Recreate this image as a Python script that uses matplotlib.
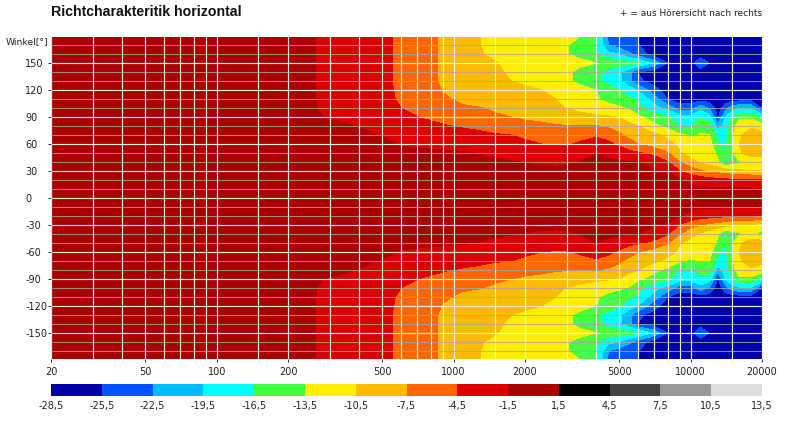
import numpy as np
import matplotlib
matplotlib.use("Agg")
import matplotlib.pyplot as plt
from matplotlib.ticker import NullFormatter

freqs = [20, 200, 240, 280, 500, 600, 750, 900, 1100, 1300, 1500, 1750, 2000, 2350, 2700, 3000, 3400,
         4000, 4500, 5000, 5500, 6000, 7000, 8000, 9000, 10000, 11000, 12000, 13000, 14000, 15000, 16000, 18000, 20000]
angles = list(range(180, -181, -10))

levels_db = [-28.5, -25.5, -22.5, -19.5, -16.5, -13.5, -10.5, -7.5, -4.5, -1.5, 1.5, 4.5, 7.5, 10.5, 13.5]
level_labels = ["-28,5", "-25,5", "-22,5", "-19,5", "-16,5", "-13,5", "-10,5", "-7,5", "-4,5", "-1,5", "1,5", "4,5", "7,5", "10,5", "13,5"]
band_colors = ["#0000AA", "#0055FF", "#00BBFF", "#00FFFF", "#44FF44", "#FFEE00", "#FFBB00", "#FF6600", "#DD0000", "#AA0000", "#000000", "#444444", "#999999", "#DDDDDD"]

level_rows = [
 [-.5,-.7,-1,-2,-3.9,-5.1,-6.5,-7.9,-9.2,-10.5,-11,-11.5,-12,-12,-12.3,-12.7,-13.5,-16.5,-23,-25,-25,-25.6,-27,-27,-27,-27,-27,-27,-27,-27,-27,-27,-27,-27],
 [-.5,-.7,-1,-2,-3.9,-5.1,-6.5,-7.9,-9.2,-10.5,-11,-11.5,-12,-12.2,-12.6,-13.3,-14.5,-16.4,-22.6,-24,-24.5,-25.4,-27,-27,-27,-27,-27,-27,-27,-27,-27,-27,-27,-27],
 [-.5,-.7,-1,-2,-3.9,-5.1,-6.5,-7.9,-9.2,-10.4,-10.9,-11.4,-11.8,-12,-12.4,-13.3,-14.5,-16.5,-18.5,-19.5,-22,-24,-27,-27,-27,-27,-26.5,-27,-27,-27,-27,-27,-27,-27],
 [-.5,-.7,-1,-2,-3.9,-5.1,-6.5,-7.9,-9.2,-10.2,-10.4,-11,-11.3,-11.5,-11.5,-11.5,-12.5,-13.5,-14.5,-15,-15.5,-16,-20.5,-25.5,-27,-26.5,-24,-25.6,-27,-27,-27,-27,-27,-27],
 [-.5,-.7,-1,-2,-3.9,-5.1,-6.5,-7.9,-9.2,-10,-10.3,-10.7,-11.2,-11.5,-12,-12.8,-14.5,-15.8,-17.5,-19,-21.5,-25.6,-27,-27,-27,-27,-26.5,-27,-27,-27,-27,-27,-27,-27],
 [-.5,-.7,-1,-2,-3.9,-5.1,-6.5,-7.9,-9,-9.8,-10,-10.5,-11,-11.2,-11.7,-13,-14.2,-16,-17.5,-19,-21.5,-25,-26.5,-27,-27,-27,-27,-27,-27,-27,-27,-27,-27,-27],
 [-.5,-.7,-1,-2,-3.8,-5,-6.4,-7.6,-8.6,-9.1,-9.3,-9.6,-10,-10.5,-11.3,-12,-12.5,-13.5,-15,-16.5,-18,-19.7,-24.5,-27,-27,-27,-27,-27,-27,-27,-27,-27,-27,-27],
 [-.5,-.7,-1,-1.9,-3.7,-4.9,-6.2,-7.2,-8,-8.7,-9,-9.3,-9.6,-10,-10.5,-11.2,-12,-13.2,-14.3,-15,-16,-17,-21,-25.5,-27,-27,-27,-27,-27,-27,-27,-27,-27,-27],
 [-.5,-.7,-1,-1.8,-3.5,-4.5,-5.8,-7,-7.2,-7.4,-8,-8.4,-9,-9.6,-10.2,-10.6,-11.5,-12,-12.6,-13,-13.8,-15.5,-18.5,-20.5,-24,-24,-20.5,-23,-27,-24,-21,-20,-20,-25.5],
 [-.5,-.6,-.8,-1.5,-3,-3.9,-4.7,-5.2,-5.8,-6.4,-7,-7.5,-8,-8.3,-8.6,-8.7,-9.2,-10,-10.2,-10.6,-11.8,-13,-15,-16,-18.3,-18.5,-17,-18,-26,-19.5,-16.6,-14.2,-14.2,-16.6],
 [-.5,-.5,-.7,-1,-2,-2.9,-3.7,-4.3,-4.8,-5.2,-5.6,-6,-6.5,-6.9,-7.3,-7.4,-7.3,-7.4,-8,-8.7,-9.7,-10.5,-12.6,-14.5,-16.8,-17,-14,-15,-21,-18.5,-14.5,-12,-11,-12.3],
 [-.5,-.5,-.6,-.9,-1.6,-2.3,-3,-3.3,-3.5,-3.9,-4.3,-4.5,-5,-5.3,-5.6,-5.6,-5.3,-4.8,-5.5,-7,-8.5,-9.5,-10,-11,-13,-14,-13.4,-13.4,-17,-17.5,-14,-11,-9,-9.5],
 [-.5,-.5,-.5,-.6,-1,-1.7,-2,-2.3,-2.5,-2.8,-3,-3.4,-4,-4.5,-4.8,-4.7,-4.2,-3.6,-4,-5,-6,-7.5,-8.8,-9.8,-11,-12,-12,-12.5,-16.2,-17,-14,-10.5,-9,-8.5],
 [-.5,-.5,-.5,-.5,-.7,-.9,-1,-1.1,-1.3,-1.6,-1.9,-2.3,-2.6,-3,-3,-2.8,-2.2,-1.5,-2,-3,-3.8,-4.2,-5.2,-7.3,-10.3,-11.5,-11.5,-12,-14,-16.5,-14,-11,-9,-8.5],
 [-.5,-.5,-.5,-.5,-.5,-.6,-.7,-.8,-.9,-1,-1.2,-1.4,-1.6,-1.9,-2,-1.9,-1.5,-1,-1.1,-1.2,-1.3,-1.5,-2.8,-4.3,-7.5,-9.5,-11,-12,-13,-16.8,-15,-14,-12.5,-14],
 [-.5,-.5,-.5,-.5,-.5,-.5,-.5,-.5,-.6,-.6,-.7,-.7,-.8,-.9,-.9,-.9,-.8,-.7,-.7,-.7,-.8,-.9,-1.2,-1.5,-4.5,-6,-7,-8,-8.5,-9,-9.5,-10,-10.3,-10.5],
 [-.5,-.5,-.5,-.5,-.5,-.5,-.5,-.5,-.5,-.5,-.5,-.5,-.5,-.5,-.5,-.5,-.5,-.5,-.5,-.5,-.5,-.5,-.7,-.9,-1.3,-2.2,-3,-3.3,-3.6,-3.8,-4,-4,-4,-4.5],
 [-.5,-.5,-.5,-.5,-.5,-.5,-.5,-.5,-.5,-.5,-.5,-.5,-.5,-.5,-.5,-.5,-.5,-.5,-.5,-.5,-.5,-.5,-.5,-.5,-.5,-.8,-1,-1,-1,-1,-1,-1.1,-1.2,-1.3],
 [-.5,-.5,-.5,-.5,-.5,-.5,-.5,-.5,-.5,-.5,-.5,-.5,-.5,-.5,-.5,-.5,-.5,-.5,-.5,-.5,-.5,-.5,-.5,-.5,-.5,-.5,-.5,-.5,-.5,-.5,-.5,-.5,-.5,-.5],
 [-.5,-.5,-.5,-.5,-.5,-.5,-.5,-.5,-.5,-.5,-.5,-.5,-.5,-.5,-.5,-.5,-.5,-.5,-.5,-.5,-.5,-.5,-.5,-.5,-.5,-.8,-1.2,-1.2,-1.2,-1.2,-1.4,-1.6,-1.6,-1.6],
 [-.5,-.5,-.5,-.5,-.5,-.5,-.5,-.5,-.5,-.5,-.5,-.5,-.5,-.5,-.5,-.5,-.5,-.5,-.5,-.5,-.5,-.5,-.7,-1,-1.5,-2.5,-3.2,-3.5,-3.8,-4,-4.2,-4.3,-4.4,-4.8],
 [-.5,-.5,-.5,-.5,-.5,-.5,-.5,-.5,-.6,-.6,-.7,-.7,-.8,-.9,-.9,-.9,-.8,-.7,-.7,-.7,-.8,-.9,-1.2,-1.6,-4.7,-6.5,-7.5,-8.3,-9,-9.5,-10,-10.5,-11,-11.5],
 [-.5,-.5,-.5,-.5,-.5,-.6,-.7,-.8,-.9,-1,-1.2,-1.4,-1.6,-1.9,-2,-1.9,-1.5,-1,-1.1,-1.2,-1.3,-1.5,-2.8,-4.3,-7.5,-9.5,-11,-12,-13,-16.8,-15,-14,-12.5,-15],
 [-.5,-.5,-.5,-.5,-.7,-.9,-1,-1.1,-1.3,-1.6,-1.9,-2.3,-2.6,-3,-3,-2.8,-2.2,-1.5,-2,-3,-3.8,-4.2,-5.2,-7.3,-10.3,-11.5,-11.5,-12,-14,-16.5,-14,-11,-9,-8.5],
 [-.5,-.5,-.5,-.6,-1,-1.7,-2,-2.3,-2.5,-2.8,-3,-3.4,-4,-4.5,-4.8,-4.7,-4.2,-3.6,-4,-5,-6,-7.5,-8.8,-9.8,-11,-12,-12,-12.5,-16.2,-17,-14,-10.5,-9,-8.5],
 [-.5,-.5,-.6,-.9,-1.6,-2.3,-3,-3.3,-3.5,-3.9,-4.3,-4.5,-5,-5.3,-5.6,-5.6,-5.3,-4.8,-5.5,-7,-8.5,-9.5,-10,-11,-13,-14,-13.4,-13.4,-17,-17.5,-14,-11,-9,-9.5],
 [-.5,-.5,-.7,-1,-2,-2.9,-3.7,-4.3,-4.8,-5.2,-5.6,-6,-6.5,-6.9,-7.3,-7.4,-7.3,-7.4,-8,-8.7,-9.7,-10.5,-12.6,-14.5,-16.8,-17,-14.5,-15,-21,-18.5,-14.5,-12,-11,-12.3],
 [-.5,-.6,-.8,-1.5,-3,-3.9,-4.7,-5.2,-5.8,-6.4,-7,-7.5,-8,-8.3,-8.6,-8.7,-9.2,-10,-10.2,-10.6,-11.8,-13,-15,-16,-18.3,-18.5,-17.5,-18,-26,-19.5,-16.6,-14.2,-14.2,-16.6],
 [-.5,-.7,-1,-1.8,-3.5,-4.5,-5.8,-7,-7.2,-7.4,-8,-8.4,-9,-9.6,-10.2,-10.6,-11.5,-12,-12.6,-13,-13.8,-15.5,-18.5,-20.5,-24,-24,-20.5,-23,-27,-24,-21,-20,-20,-25.5],
 [-.5,-.7,-1,-1.9,-3.7,-4.9,-6.2,-7.2,-8,-8.7,-9,-9.3,-9.6,-10,-10.5,-11.2,-12,-13.2,-14.3,-15,-16,-17,-21,-25.5,-27,-27,-27,-27,-27,-27,-27,-27,-27,-27],
 [-.5,-.7,-1,-2,-3.8,-5,-6.4,-7.6,-8.6,-9.1,-9.3,-9.6,-10,-10.5,-11.3,-12,-12.5,-13.5,-15,-16.5,-18,-19.7,-24.5,-27,-27,-27,-27,-27,-27,-27,-27,-27,-27,-27],
 [-.5,-.7,-1,-2,-3.9,-5.1,-6.5,-7.9,-9,-9.8,-10,-10.5,-11,-11.2,-11.7,-13,-14.2,-16,-17.5,-19,-21.5,-25,-26.5,-27,-27,-27,-27,-27,-27,-27,-27,-27,-27,-27],
 [-.5,-.7,-1,-2,-3.9,-5.1,-6.5,-7.9,-9.2,-10,-10.3,-10.7,-11.2,-11.5,-12,-12.8,-14.5,-15.8,-17.5,-19,-21.5,-25.6,-27,-27,-27,-27,-26.5,-27,-27,-27,-27,-27,-27,-27],
 [-.5,-.7,-1,-2,-3.9,-5.1,-6.5,-7.9,-9.2,-10.2,-10.4,-11,-11.3,-11.5,-11.5,-11.5,-12.5,-13.5,-14.5,-15,-15.5,-16,-20.5,-25.5,-27,-26.5,-24,-25.6,-27,-27,-27,-27,-27,-27],
 [-.5,-.7,-1,-2,-3.9,-5.1,-6.5,-7.9,-9.2,-10.4,-10.9,-11.4,-11.8,-12,-12.4,-13.3,-14.5,-16.5,-18.5,-19.5,-22,-24,-27,-27,-27,-27,-26.5,-27,-27,-27,-27,-27,-27,-27],
 [-.5,-.7,-1,-2,-3.9,-5.1,-6.5,-7.9,-9.2,-10.5,-11,-11.5,-12,-12.2,-12.6,-13.3,-14.5,-16.4,-22.6,-24,-24.5,-25.4,-27,-27,-27,-27,-27,-27,-27,-27,-27,-27,-27,-27],
 [-.5,-.7,-1,-2,-3.9,-5.1,-6.5,-7.9,-9.2,-10.5,-11,-11.5,-12,-12,-12.3,-12.7,-13.5,-16.5,-23,-25,-25,-25.6,-27,-27,-27,-27,-27,-27,-27,-27,-27,-27,-27,-27],
]

x_labeled = [20, 50, 100, 200, 500, 1000, 2000, 5000, 10000, 20000]
x_grid = [30, 40, 60, 70, 80, 90, 150, 300, 400, 600, 700, 800, 900, 1500, 3000, 4000, 6000, 7000, 8000, 9000, 15000]
y_labeled = [150, 120, 90, 60, 30, 0, -30, -60, -90, -120, -150]
y_minor = [a for a in range(-170, 171, 10) if a % 30 != 0]

plt.rcParams["font.family"] = "DejaVu Sans"
plt.rcParams["axes.unicode_minus"] = False

W, H = 800, 421
fig = plt.figure(figsize=(W / 100, H / 100), dpi=100)
ax = fig.add_axes([51 / W, 1 - 359 / H, 711 / W, 322 / H])

cf = ax.contourf(freqs, angles, np.array(level_rows), levels=levels_db, colors=band_colors, antialiased=False)
ax.set_xscale("log")
ax.set_xlim(20, 20000)
ax.set_ylim(-179, 179)

ax.set_xticks(x_labeled)
ax.set_xticklabels([str(v) for v in x_labeled])
ax.set_xticks(x_grid, minor=True)
ax.xaxis.set_minor_formatter(NullFormatter())
ax.set_yticks(y_labeled)
ax.set_yticks(y_minor, minor=True)
ax.set_axisbelow(False)
ax.grid(True, which="major", axis="both", color="#F6EFEA", lw=0.85)
ax.grid(True, which="minor", axis="x", color="#F6EFEA", lw=0.85)
ax.grid(True, which="minor", axis="y", color="#A8A8A8", lw=0.75, alpha=0.8)
ax.tick_params(which="minor", length=0)
ax.tick_params(which="major", length=2.2, width=0.7, labelsize=7, labelcolor="#222222", color="#333333")
ax.tick_params(axis="x", which="major", pad=3.5)
ax.tick_params(axis="y", which="major", pad=16.5)
for lab in ax.get_yticklabels():
    lab.set_horizontalalignment("left")
for side in ax.spines.values():
    side.set_visible(False)

cax = fig.add_axes([51 / W, 1 - 396 / H, 711 / W, 12 / H])
cb = fig.colorbar(cf, cax=cax, orientation="horizontal", ticks=levels_db)
cb.ax.set_xticklabels(level_labels)
cb.ax.tick_params(length=0, labelsize=7, pad=3.5, labelcolor="#222222")
cb.outline.set_visible(False)

fig.text(51 / W, 1 - 12 / H, "Richtcharakteritik horizontal", fontsize=10.2, fontweight="bold", family="Liberation Sans", va="center", ha="left", color="#111111")
fig.text(762 / W, 1 - 14 / H, "+ = aus Hörersicht nach rechts", fontsize=6.5, va="center", ha="right", color="#222222")
fig.text(48 / W, 1 - 42 / H, "Winkel[°]", fontsize=6.7, va="center", ha="right", color="#222222")

fig.savefig("out.png", dpi=100)
